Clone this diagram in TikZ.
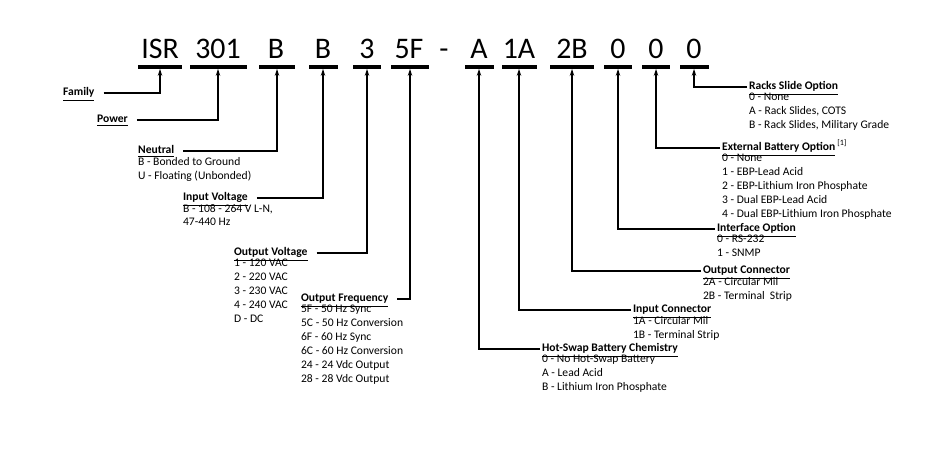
\documentclass[tikz,border=0pt]{standalone}
\usepackage{fontspec}
\setmainfont{Carlito}
\usetikzlibrary{arrows.meta,positioning}
\begin{document}
\begin{tikzpicture}[
        x=0.02cm, y=-0.02cm,
        code/.style={font=\fontsize{17}{17}\selectfont, inner sep=0pt, text height=12pt, text depth=0pt, anchor=base},
        bar/.style={fill=black, inner sep=0pt, minimum height=3.2*0.02cm},
        head/.style={anchor=west, font=\fontsize{6.6}{7.9}\selectfont\bfseries, inner sep=1pt, text height=5pt, text depth=1.6pt},
        list/.style={anchor=north west, align=left, font=\fontsize{6.6}{7.9}\selectfont, inner sep=1pt, yshift=2.2pt},
        lead/.style={-{Stealth[length=4pt,width=2.6pt]}, line width=0.6pt}
    ]
        \useasboundingbox (0,0) rectangle (947,450);

        % code row
        \node[code] (t1) at (160,58) {ISR};
        \node[code] (t2) at (218,58) {301};
        \node[code] (t3) at (276,58) {B};
        \node[code] (t4) at (323,58) {B};
        \node[code] (t5) at (367,58) {3};
        \node[code] (t6) at (409,58) {5F};
        \node[code] (t7) at (444,58) {-};
        \node[code] (t8) at (479,58) {A};
        \node[code] (t9) at (519,58) {1A};
        \node[code] (t10) at (572,58) {2B};
        \node[code] (t11) at (618,58) {0};
        \node[code] (t12) at (656,58) {0};
        \node[code] (t13) at (694,58) {0};

        % bars
        \node[bar, minimum width=44*0.02cm] (b1) at (160,67) {};
        \node[bar, minimum width=57*0.02cm] (b2) at (218,67) {};
        \node[bar, minimum width=36*0.02cm] (b3) at (277,67) {};
        \node[bar, minimum width=29*0.02cm] (b4) at (323,67) {};
        \node[bar, minimum width=28*0.02cm] (b5) at (367,67) {};
        \node[bar, minimum width=38*0.02cm] (b6) at (410,67) {};
        \node[bar, minimum width=29*0.02cm] (b7) at (479,67) {};
        \node[bar, minimum width=35*0.02cm] (b8) at (519,67) {};
        \node[bar, minimum width=44*0.02cm] (b9) at (572,67) {};
        \node[bar, minimum width=28*0.02cm] (b10) at (618,67) {};
        \node[bar, minimum width=28*0.02cm] (b11) at (656,67) {};
        \node[bar, minimum width=29*0.02cm] (b12) at (694,67) {};

        % left side
        \node[head] (fam) at (61,93) {\underline{Family}};
        \node[head] (pow) at (95,120) {\underline{Power}};
        \node[head] (neu) at (136,151) {\underline{Neutral}};
        \node[list] at (neu.south west) {B - Bonded to Ground\\U - Floating (Unbonded)};
        \node[head] (inv) at (181,198) {\underline{Input Voltage}};
        \node[list] at (inv.south west) {B - 108 - 264 V L-N,\\47-440 Hz};
        \node[head] (outv) at (232,253) {\underline{Output Voltage}};
        \node[list] at (outv.south west) {1 - 120 VAC\\2 - 220 VAC\\3 - 230 VAC\\4 - 240 VAC\\D - DC};
        \node[head] (freq) at (299,299) {\underline{Output Frequency}};
        \node[list] at (freq.south west) {5F - 50 Hz Sync\\5C - 50 Hz Conversion\\6F - 60 Hz Sync\\6C - 60 Hz Conversion\\24 - 24 Vdc Output\\28 - 28 Vdc Output};

        % right side
        \node[head] (rack) at (747,87) {\underline{Racks Slide Option}};
        \node[list] at (rack.south west) {0 - None\\A - Rack Slides, COTS\\B - Rack Slides, Military Grade};
        \node[head] (ext) at (720,148) {\underline{External Battery Option}\,\textsuperscript{\mdseries[1]}};
        \node[list] at (ext.south west) {0 - None\\1 - EBP-Lead Acid\\2 - EBP-Lithium Iron Phosphate\\3 - Dual EBP-Lead Acid\\4 - Dual EBP-Lithium Iron Phosphate};
        \node[head] (intf) at (715,229) {\underline{Interface Option}};
        \node[list] at (intf.south west) {0 - RS-232\\1 - SNMP};
        \node[head] (oc) at (701,271) {\underline{Output Connector}};
        \node[list] at (oc.south west) {2A - Circular Mil\\2B - Terminal~ Strip};
        \node[head] (ic) at (631,310) {\underline{Input Connector}};
        \node[list] at (ic.south west) {1A - Circular Mil\\1B - Terminal Strip};
        \node[head] (hs) at (540,349) {\underline{Hot-Swap Battery Chemistry}};
        \node[list] at (hs.south west) {0 - No Hot-Swap Battery\\A - Lead Acid\\B - Lithium Iron Phosphate};

        % leaders
        \draw[lead] ([xshift=4pt]fam.east) -| (b1.south);
        \draw[lead] ([xshift=4pt]pow.east) -| (b2.south);
        \draw[lead] ([xshift=4pt]neu.east) -| (b3.south);
        \draw[lead] ([xshift=4pt]inv.east) -| (b4.south);
        \draw[lead] ([xshift=4pt]outv.east) -| (b5.south);
        \draw[lead] ([xshift=4pt]freq.east) -| (b6.south);
        \draw[lead] (hs.west) -| (b7.south);
        \draw[lead] (ic.west) -| (b8.south);
        \draw[lead] (oc.west) -| (b9.south);
        \draw[lead] (intf.west) -| (b10.south);
        \draw[lead] (ext.west) -| (b11.south);
        \draw[lead] (rack.west) -| (b12.south);
    \end{tikzpicture}
\end{document}
